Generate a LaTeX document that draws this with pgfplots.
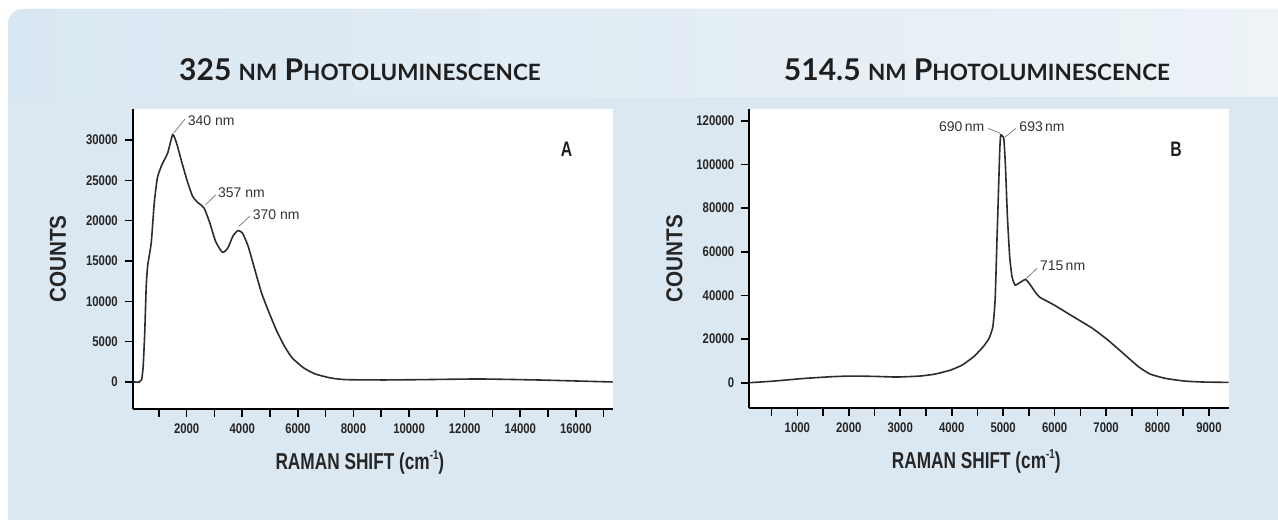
\documentclass[border=0pt]{standalone}
\usepackage{fontspec}
\usepackage{pgfplots}
\pgfplotsset{compat=1.18}
\setmainfont{Liberation Sans}
\newfontfamily\condfont[FakeStretch=0.81]{Liberation Sans}
\newfontfamily\labfont[FakeStretch=0.75]{Liberation Sans}
\newfontfamily\ylabfont[FakeStretch=0.9]{Liberation Sans}
\newfontfamily\titlefont{Lato}
\definecolor{bgcol}{RGB}{220,232,241}
\definecolor{bandL}{RGB}{217,231,242}
\definecolor{bandR}{RGB}{237,243,247}
\definecolor{curve}{RGB}{45,45,45}
\definecolor{lead}{RGB}{130,130,130}

\pgfplotstableread{
x y
58 0
297 0
380 290
435 1940
490 6070
545 11860
600 14500
724 17230
834 22190
945 25290
1110 26940
1317 28390
1496 30660
1633 29630
1799 27560
2005 25080
2212 23020
2418 22190
2625 21570
2832 19710
3039 17440
3287 16070
3480 16610
3660 18060
3839 18760
4004 18470
4211 16820
4417 14340
4693 11030
4969 8550
5245 6280
5520 4420
5796 2980
6210 1740
6623 990
7175 500
7726 290
9100 250
10470 290
12530 370
14600 250
15980 125
17320 0
}\dataA

\pgfplotstableread{
x y
69 0
553 760
1149 1985
1670 2750
2043 3050
2490 2900
2937 2600
3384 3050
3682 3970
3980 5800
4204 8090
4427 11910
4613 16490
4725 20310
4800 25650
4844 37870
4874 60770
4904 83680
4934 106600
4952 113600
4990 112800
5015 111500
5045 98950
5083 76050
5127 57720
5172 48560
5232 44740
5321 45810
5433 47340
5507 45500
5619 41690
5716 39090
5992 35580
6364 30230
6737 24890
7035 19550
7333 13440
7630 7330
7854 3970
8152 1985
8524 760
8897 305
9381 150
}\dataB

\pgfplotsset{
  myaxis/.style={
    anchor=south west, scale only axis,
    axis x line=bottom, axis y line=left,
    axis line style={-, black, line width=0.9pt},
    axis background/.style={fill=white},
    tick align=outside,
    major tick length=4pt, minor tick length=4pt,
    every tick/.style={black, line width=0.8pt},
    ticklabel style={font=\condfont\bfseries\fontsize{7}{8}\selectfont, text=black!85},
    /pgf/number format/assume math mode=true,
    /pgf/number format/fixed,
    /pgf/number format/precision=0,
    /pgf/number format/set thousands separator={},
    scaled y ticks=false,
    scaled x ticks=false,
    xlabel style={at={(axis description cs:0.473,0)}, anchor=base, yshift=-30.5pt, font=\labfont\bfseries\fontsize{11.5}{12}\selectfont, text=black!85},
    ylabel style={anchor=center, rotate=0, font=\ylabfont\bfseries\fontsize{11.5}{12}\selectfont, text=black!85},
    xlabel={RAMAN SHIFT (cm\raisebox{0.45em}{\fontsize{6.5}{7}\selectfont -1})},
    ylabel={COUNTS},
    clip=false,
  }
}

\begin{document}
\begin{tikzpicture}
\useasboundingbox (0,0) rectangle (639pt,259.5pt);
\fill[white] (0,0) rectangle (639pt,259.5pt);
\begin{scope}
\clip[rounded corners=7.5pt] (4pt,-20pt) rectangle (660pt,255pt);
\fill[bgcol] (0,-20pt) rectangle (660pt,260pt);
\shade[left color=bandL, right color=bandR] (0,211pt) rectangle (640pt,260pt);
\end{scope}
\node[anchor=base, font=\titlefont\bfseries\fontsize{15}{17}\selectfont, text=black!88] at (180pt,219pt)
  {325 {\fontsize{11.25}{12}\selectfont NM} P{\fontsize{11.25}{12}\selectfont HOTOLUMINESCENCE}};
\node[anchor=base, font=\titlefont\bfseries\fontsize{15}{17}\selectfont, text=black!88] at (488.5pt,219pt)
  {514.5 {\fontsize{11.25}{12}\selectfont NM} P{\fontsize{11.25}{12}\selectfont HOTOLUMINESCENCE}};

\begin{axis}[myaxis,
  at={(66.35pt,55pt)}, width=240.15pt, height=150pt,
  xmin=58, xmax=17335, ymin=-3350, ymax=33840,
  xtick={2000,4000,...,16000},
  minor xtick={1000,3000,...,17000},
  ytick={0,5000,...,30000},
  ylabel style={at={(axis description cs:-0.1555,0.5)}},
]
\addplot[curve, line width=0.8pt, smooth, tension=0.35] table[x=x,y=y] {\dataA};
\draw[lead, line width=0.4pt] (axis cs:1537,30870) -- (axis cs:1951,32640);
\node[anchor=west, inner sep=0.5pt, font=\fontsize{7}{8}\selectfont, text=black!80] at (axis cs:1990,32400) {340 nm};
\draw[lead, line width=0.4pt] (axis cs:2681,21980) -- (axis cs:3053,23220);
\node[anchor=west, inner sep=0.5pt, font=\fontsize{7}{8}\selectfont, text=black!80] at (axis cs:3080,23430) {357 nm};
\draw[lead, line width=0.4pt] (axis cs:3880,19300) -- (axis cs:4266,20540);
\node[anchor=west, inner sep=0.5pt, font=\fontsize{7}{8}\selectfont, text=black!80] at (axis cs:4330,20700) {370 nm};
\node[font=\labfont\bfseries\fontsize{10.5}{11}\selectfont, text=black!88] at (axis cs:15660,28800) {A};
\end{axis}

\begin{axis}[myaxis,
  at={(374.65pt,55.65pt)}, width=239.85pt, height=149.35pt,
  xmin=67, xmax=9389, ymin=-11450, ymax=125400,
  xtick={1000,2000,...,9000},
  minor xtick={500,1500,...,9000},
  ytick={0,20000,...,120000},
  ylabel style={at={(axis description cs:-0.156,0.5)}},
]
\addplot[curve, line width=0.8pt, smooth, tension=0.3] table[x=x,y=y] {\dataB};
\draw[lead, line width=0.4pt] (axis cs:4710,116500) -- (axis cs:4940,114300);
\node[anchor=east, inner sep=0.5pt, font=\fontsize{7}{8}\selectfont, text=black!80] at (axis cs:4660,117300) {690\,nm};
\draw[lead, line width=0.4pt] (axis cs:5247,116500) -- (axis cs:5030,112400);
\node[anchor=west, inner sep=0.5pt, font=\fontsize{7}{8}\selectfont, text=black!80] at (axis cs:5290,117300) {693\,nm};
\draw[lead, line width=0.4pt] (axis cs:5656,52380) -- (axis cs:5455,47800);
\node[anchor=west, inner sep=0.5pt, font=\fontsize{7}{8}\selectfont, text=black!80] at (axis cs:5690,53600) {715\,nm};
\node[font=\labfont\bfseries\fontsize{10.5}{11}\selectfont, text=black!88] at (axis cs:8361,106900) {B};
\end{axis}
\end{tikzpicture}
\end{document}
